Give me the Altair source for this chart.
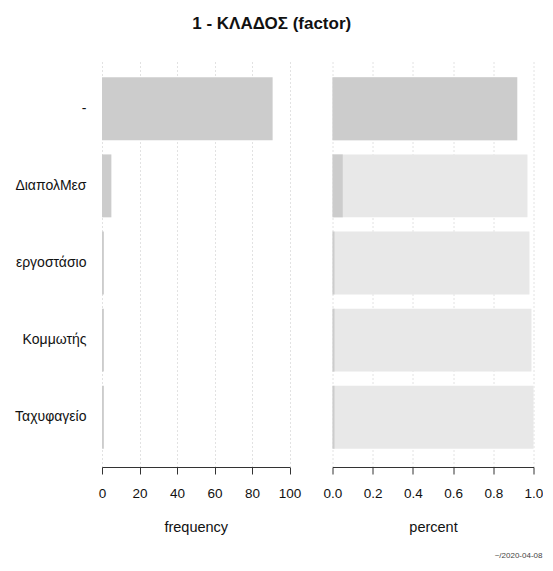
import altair as alt
import pandas as pd

categories = ["-", "ΔιαπολΜεσ", "εργοστάσιο", "Κομμωτής", "Ταχυφαγείο"]
frequency = [91, 5, 1, 1, 1]
percent = [0.919, 0.051, 0.010, 0.010, 0.010]
cumulative = [0.919, 0.970, 0.980, 0.990, 1.000]
freq_ticks = [0, 20, 40, 60, 80, 100]
pct_ticks = [0.0, 0.2, 0.4, 0.6, 0.8, 1.0]
title_text = "1 - ΚΛΑΔΟΣ (factor)"
footer_text = "~/2020-04-08"

df = pd.DataFrame({
    "category": categories,
    "frequency": frequency,
    "percent": percent,
    "cumulative": cumulative,
})

FONT = "Liberation Sans"
DARK = "#CCCCCC"
LIGHT = "#E8E8E8"
H = 408

yscale = alt.Scale(paddingInner=0.184, paddingOuter=0.237)

def xaxis(title, values, fmt):
    return alt.Axis(
        title=title, values=values, format=fmt, grid=True,
        gridColor="#C4C4C4", gridDash=[1, 3], gridWidth=1,
        domainColor="#333333", tickColor="#333333", tickSize=7,
        labelFont=FONT, labelFontSize=13.5, labelColor="#111111", labelPadding=12,
        titleFont=FONT, titleFontSize=14.5, titleFontWeight="normal",
        titleColor="#111111", titlePadding=21, labelFlush=False,
    )

left = alt.Chart(df).mark_bar(color=DARK).encode(
    x=alt.X("frequency:Q", scale=alt.Scale(domain=[0, 100], nice=False),
            axis=xaxis("frequency", freq_ticks, "d")),
    y=alt.Y("category:N", sort=categories, scale=yscale,
            axis=alt.Axis(title=None, domain=False, ticks=False, grid=False,
                          labelFont=FONT, labelFontSize=14, labelColor="#111111",
                          labelPadding=16, labelLimit=200)),
).properties(width=187.5, height=H)

right_cum = alt.Chart(df).mark_bar(color=LIGHT).encode(
    x=alt.X("cumulative:Q", scale=alt.Scale(domain=[0, 1], nice=False),
            axis=xaxis("percent", pct_ticks, ".1f")),
    y=alt.Y("category:N", sort=categories, scale=yscale, axis=None),
)
right_pct = alt.Chart(df).mark_bar(color=DARK).encode(
    x=alt.X("percent:Q"),
    y=alt.Y("category:N", sort=categories, scale=yscale, axis=None),
)
footer = alt.Chart(pd.DataFrame({"t": [footer_text]})).mark_text(
    font=FONT, fontSize=8, color="#444444", align="right", baseline="middle"
).encode(text="t:N", x=alt.value(210), y=alt.value(H + 89))

right = alt.layer(right_cum, right_pct, footer).properties(width=201, height=H)

chart = alt.hconcat(left, right, spacing=42.5, bounds="flush").properties(
    title=alt.TitleParams(title_text, font=FONT, fontSize=17, fontWeight="bold",
                          color="#111111", anchor="middle", offset=26, dx=-7),
    padding={"left": 6, "top": 7, "right": 0, "bottom": 0},
).configure_view(stroke=None)

chart.save("out.html", embed_options={"renderer": "svg", "actions": False})
